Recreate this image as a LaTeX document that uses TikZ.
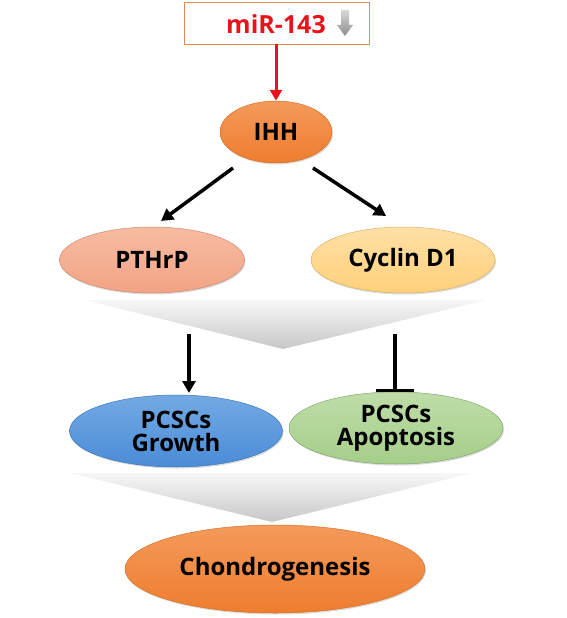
\documentclass[tikz,border=0pt]{standalone}
\usepackage{fontspec}
\setmainfont{Open Sans}
\usetikzlibrary{shapes.geometric,arrows.meta,shadows}
\definecolor{ihhc}{HTML}{EE7D2E}
\definecolor{ihhl}{HTML}{F49A5A}
\definecolor{pthc}{HTML}{F2A384}
\definecolor{pthl}{HTML}{F6BCA2}
\definecolor{cycc}{HTML}{FFD07A}
\definecolor{cycl}{HTML}{FFE0A6}
\definecolor{grc}{HTML}{4A8CD6}
\definecolor{grl}{HTML}{73A9E4}
\definecolor{apc}{HTML}{A5CE8A}
\definecolor{apl}{HTML}{BFDDA8}
\definecolor{boxc}{HTML}{E8875A}
\definecolor{mirred}{HTML}{E8141B}
\begin{document}
\begin{tikzpicture}[x=1pt,y=-1pt,
  oval/.style={ellipse,inner sep=0pt,font=\bfseries\fontsize{24}{27}\selectfont,align=center,
    drop shadow={shadow xshift=1pt,shadow yshift=-1.5pt,fill=black!35,opacity=0.4}},
  arr/.style={-{Triangle[length=12pt,width=13pt]},line width=3.5pt},
  funnel/.style={top color=black!3,bottom color=black!22,draw=none}]
\useasboundingbox (0,0) rectangle (567,618);
% funnels
\shade[funnel] (85,300) -- (487,300) -- (283,349) -- cycle;
\shade[funnel] (70,473) -- (472,473) -- (272,522) -- cycle;
% top box
\node[draw=boxc,line width=0.8pt,minimum width=185pt,minimum height=42pt,inner sep=0pt] (mir) at (276.5,23) {};
\node[text=mirred,font=\bfseries\fontsize{25}{28}\selectfont,anchor=center] (mirt) at (276,24) {miR-143};
\shade[top color=black!15,bottom color=black!45] (341,10) -- (349,10) -- (349,25) -- (353,25) -- (345,36) -- (337,25) -- (341,25) -- cycle;
% nodes
\node[oval,top color=ihhl,bottom color=ihhc,draw=ihhc!90!black,line width=0.5pt,minimum width=112pt,minimum height=62pt] (ihh) at (276,132) {IHH};
\node[oval,top color=pthl,bottom color=pthc,draw=pthc!85!black,line width=0.5pt,minimum width=185pt,minimum height=66pt] (pth) at (152,260) {PTHrP};
\node[oval,top color=cycl,bottom color=cycc,draw=cycc!85!black,line width=0.5pt,minimum width=184pt,minimum height=66pt] (cyc) at (403,260) {Cyclin D1};
\node[oval,top color=grl,bottom color=grc,draw=grc!85!black,line width=0.5pt,minimum width=213pt,minimum height=72pt] (gro) at (176,431) {PCSCs\\[-4pt]Growth};
\node[oval,top color=apl,bottom color=apc,draw=apc!80!black,line width=0.5pt,minimum width=214pt,minimum height=72pt] (apo) at (396,428) {PCSCs\\[-4pt]Apoptosis};
\node[oval,top color=ihhl,bottom color=ihhc,draw=ihhc!90!black,line width=0.5pt,minimum width=300pt,minimum height=88pt] (cho) at (275,569) {Chondrogenesis};
% connectors
\draw[line width=3pt,draw=mirred,-{Triangle[length=11pt,width=12pt]}] (mir.south -| ihh.north) -- (ihh.north);
\coordinate (a1) at (233,168);
\coordinate (a2) at (313,168);
\draw[arr] (a1) -- (161,221) coordinate (b1);
\draw[arr] (a2) -- (386,216) coordinate (b2);
\coordinate (c1) at (189,334);
\coordinate (d1) at (189,393);
\draw[arr] (c1) -- (d1);
\coordinate (c2) at (395,334);
\coordinate (d2) at (395,392);
\draw[line width=3.5pt,-{Bar[width=38pt,line width=3.5pt]}] (c2) -- (d2);
\end{tikzpicture}
\end{document}
